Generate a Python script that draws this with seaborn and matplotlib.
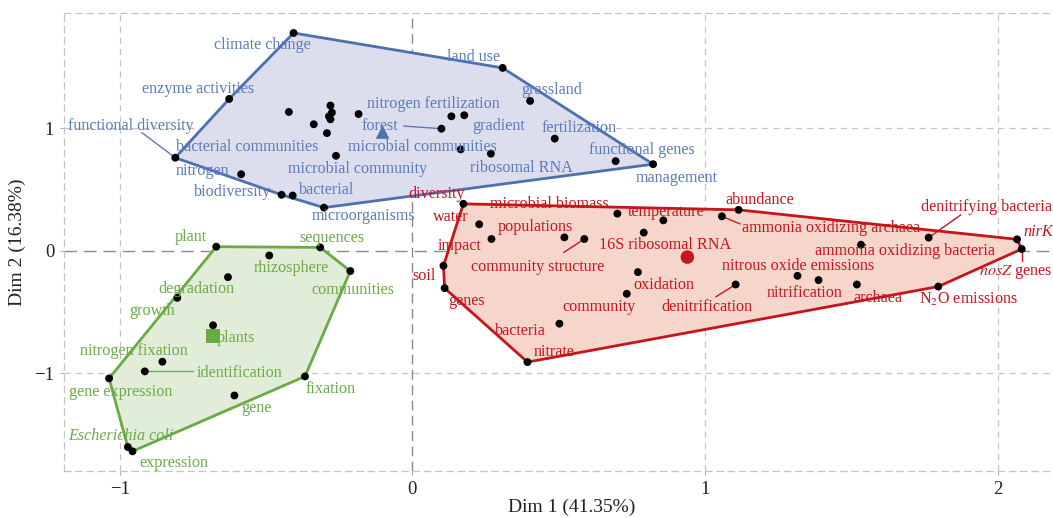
import numpy as np
import pandas as pd
import matplotlib
matplotlib.use("Agg")
import matplotlib.pyplot as plt
import seaborn as sns

# ---- data (Dim 1, Dim 2 coordinates) ----
blue_terms = ["climate change", "land use", "grassland", "nitrogen fertilization", "gradient",
              "forest", "microbial communities", "ribosomal RNA", "fertilization",
              "functional genes", "management", "microorganisms", "bacterial", "biodiversity",
              "nitrogen", "functional diversity", "enzyme activities", "", "", "", "", "",
              "bacterial communities", "", "", "microbial community"]
blue_d1 = [-0.406, 0.308, 0.402, 0.133, 0.177, 0.099, 0.165, 0.268, 0.486, 0.694, 0.822,
           -0.302, -0.409, -0.447, -0.585, -0.810, -0.626, -0.422, -0.280, -0.275, -0.285,
           -0.280, -0.337, -0.292, -0.184, -0.261]
blue_d2 = [1.779, 1.494, 1.224, 1.098, 1.107, 0.997, 0.828, 0.793, 0.916, 0.732, 0.707,
           0.352, 0.451, 0.457, 0.625, 0.760, 1.240, 1.134, 1.186, 1.129, 1.098, 1.074,
           1.033, 0.961, 1.117, 0.776]

red_terms = ["diversity", "water", "impact", "soil", "genes", "nitrate", "bacteria",
             "community", "oxidation", "populations", "community structure",
             "microbial biomass", "temperature", "16S ribosomal RNA", "abundance",
             "ammonia oxidizing archaea", "denitrification", "nitrous oxide emissions",
             "nitrification", "archaea", "ammonia oxidizing bacteria",
             "denitrifying bacteria", "nirK", "nosZ genes", "N2O emissions"]
red_d1 = [0.174, 0.228, 0.270, 0.106, 0.110, 0.393, 0.502, 0.732, 0.770, 0.519, 0.587,
          0.700, 0.857, 0.790, 1.114, 1.057, 1.104, 1.315, 1.387, 1.518, 1.532, 1.763,
          2.065, 2.081, 1.796]
red_d2 = [0.383, 0.216, 0.096, -0.123, -0.306, -0.910, -0.596, -0.352, -0.175, 0.109,
          0.096, 0.303, 0.248, 0.148, 0.334, 0.281, -0.276, -0.205, -0.240, -0.276, 0.049,
          0.107, 0.093, 0.014, -0.293]

green_terms = ["plant", "sequences", "communities", "rhizosphere", "degradation", "growth",
               "plants", "nitrogen fixation", "identification", "gene expression",
               "fixation", "gene", "Escherichia coli", "expression"]
green_d1 = [-0.670, -0.315, -0.212, -0.489, -0.630, -0.803, -0.681, -0.854, -0.914,
            -1.036, -0.367, -0.608, -0.972, -0.956]
green_d2 = [0.033, 0.027, -0.166, -0.039, -0.216, -0.385, -0.609, -0.907, -0.986,
            -1.043, -1.027, -1.183, -1.604, -1.639]

clusters = ["1", "2", "3"]
centre_d1 = [-0.102, 0.939, -0.681]
centre_d2 = [0.970, -0.052, -0.697]

# ---- label layout (text centres and segment starts, data units) ----
label_pos = {
    "climate change": (-0.513, 1.680), "enzyme activities": (-0.732, 1.320),
    "functional diversity": (-0.961, 1.016), "bacterial communities": (-0.565, 0.847),
    "nitrogen": (-0.716, 0.650), "biodiversity": (-0.614, 0.478),
    "bacterial": (-0.292, 0.498), "microorganisms": (-0.168, 0.287),
    "microbial community": (-0.186, 0.670), "microbial communities": (0.035, 0.847),
    "nitrogen fertilization": (0.072, 1.202), "forest": (-0.111, 1.019),
    "gradient": (0.294, 1.019), "land use": (0.209, 1.584), "grassland": (0.474, 1.311),
    "fertilization": (0.569, 1.002), "functional genes": (0.785, 0.820),
    "ribosomal RNA": (0.373, 0.678), "management": (0.904, 0.598),
    "diversity": (0.083, 0.465), "microbial biomass": (0.468, 0.385),
    "water": (0.132, 0.273), "populations": (0.419, 0.191), "impact": (0.160, 0.041),
    "16S ribosomal RNA": (0.864, 0.049), "community structure": (0.426, -0.131),
    "soil": (0.039, -0.205), "genes": (0.185, -0.410), "bacteria": (0.369, -0.656),
    "nitrate": (0.484, -0.828), "community": (0.637, -0.459),
    "oxidation": (0.859, -0.281), "temperature": (0.868, 0.320),
    "denitrification": (1.005, -0.459), "nitrous oxide emissions": (1.316, -0.123),
    "abundance": (1.185, 0.416), "ammonia oxidizing archaea": (1.429, 0.186),
    "ammonia oxidizing bacteria": (1.684, 0.000), "denitrifying bacteria": (1.962, 0.361),
    "nirK": (2.137, 0.156), "nosZ genes": (2.060, -0.170), "N2O emissions": (1.898, -0.396),
    "nitrification": (1.338, -0.347), "archaea": (1.590, -0.383),
    "plant": (-0.756, 0.115), "sequences": (-0.274, 0.107), "rhizosphere": (-0.415, -0.145),
    "communities": (-0.202, -0.322), "degradation": (-0.738, -0.309),
    "growth": (-0.890, -0.492), "plants": (-0.602, -0.711),
    "nitrogen fixation": (-0.950, -0.820), "identification": (-0.592, -0.998),
    "gene expression": (-0.998, -1.153), "fixation": (-0.280, -1.134),
    "gene": (-0.533, -1.284), "Escherichia coli": (-0.995, -1.516),
    "expression": (-0.815, -1.735),
}
segment_start = {
    "functional diversity": (-0.924, 0.965), "forest": (-0.030, 1.019),
    "community structure": (0.517, -0.014), "denitrification": (1.036, -0.377),
    "ammonia oxidizing archaea": (1.119, 0.219), "denitrifying bacteria": (1.873, 0.293),
    "nosZ genes": (2.081, -0.088), "identification": (-0.748, -0.986),
}
pretty = {"nosZ genes": r"$\mathit{nosZ}$ genes", "N2O emissions": r"N$_2$O emissions"}
italic = {"nirK", "Escherichia coli"}

line_col = {"1": "#4d70b0", "2": "#c4161c", "3": "#6aab45"}
text_col = {"1": "#5a7cb9", "2": "#c8141e", "3": "#6aab45"}
fill_col = {"1": "#dcdeee", "2": "#f6d6ca", "3": "#e1edd9"}
markers = {"1": "^", "2": "o", "3": "s"}

df = pd.concat([
    pd.DataFrame({"term": blue_terms, "dim1": blue_d1, "dim2": blue_d2, "cluster": "1"}),
    pd.DataFrame({"term": red_terms, "dim1": red_d1, "dim2": red_d2, "cluster": "2"}),
    pd.DataFrame({"term": green_terms, "dim1": green_d1, "dim2": green_d2, "cluster": "3"}),
], ignore_index=True)
centres = pd.DataFrame({"cluster": clusters, "dim1": centre_d1, "dim2": centre_d2})


def hull(pts):
    # monotone chain convex hull
    pts = sorted(map(tuple, pts))
    def cross(o, a, b):
        return (a[0] - o[0]) * (b[1] - o[1]) - (a[1] - o[1]) * (b[0] - o[0])
    lower, upper = [], []
    for p in pts:
        while len(lower) >= 2 and cross(lower[-2], lower[-1], p) <= 0:
            lower.pop()
        lower.append(p)
    for p in reversed(pts):
        while len(upper) >= 2 and cross(upper[-2], upper[-1], p) <= 0:
            upper.pop()
        upper.append(p)
    return np.array(lower[:-1] + upper[:-1])


sns.set_theme(style="white")
plt.rcParams["font.family"] = ["Liberation Serif", "DejaVu Serif"]
plt.rcParams["mathtext.fontset"] = "stix"

fig = plt.figure(figsize=(10.53, 5.18), dpi=100)
ax = fig.add_axes([64 / 1053, 1 - 471 / 518, (1080 - 64) / 1053, (471 - 13.3) / 518])

ax.set_xlim(-1.19, 2.28)
ax.set_ylim(-1.80, 1.94)

# grid and zero lines
for xv in [-1, 1, 2]:
    ax.axvline(xv, color="#c4c4c4", lw=0.9, ls=(0, (5, 4)), zorder=0)
for yv in [-1, 1]:
    ax.axhline(yv, color="#c4c4c4", lw=0.9, ls=(0, (5, 4)), zorder=0)
ax.axvline(0, color="#8a8a8a", lw=1.0, ls=(0, (7, 4)), zorder=0.5)
ax.axhline(0, color="#8a8a8a", lw=1.0, ls=(0, (9, 5)), zorder=0.5)
for sp in ax.spines.values():
    sp.set_color("#c4c4c4")
    sp.set_linestyle((0, (5, 4)))
    sp.set_linewidth(0.9)

for c in clusters:
    sub = df[df["cluster"] == c]
    h = hull(sub[["dim1", "dim2"]].values)
    ax.fill(h[:, 0], h[:, 1], color=fill_col[c], zorder=1)
    hc = np.vstack([h, h[:1]])
    ax.plot(hc[:, 0], hc[:, 1], color=line_col[c], lw=2.0, zorder=2)

sns.scatterplot(data=df, x="dim1", y="dim2", color="black", s=32, edgecolor="none",
                ax=ax, zorder=4, legend=False)
sns.scatterplot(data=centres, x="dim1", y="dim2", hue="cluster", style="cluster",
                palette=line_col, markers=markers, s=[95], edgecolor="none",
                ax=ax, zorder=4, legend=False)

for _, r in df.iterrows():
    t = r["term"]
    if not t or t not in label_pos:
        continue
    lx, ly = label_pos[t]
    col = text_col[r["cluster"]]
    if t in segment_start:
        sx, sy = segment_start[t]
        ax.plot([sx, r["dim1"]], [sy, r["dim2"]], color=col, lw=1.0, zorder=3)
    ax.text(lx, ly, pretty.get(t, t), color=col, fontsize=11.6, ha="center", va="center",
            fontstyle="italic" if t in italic else "normal", zorder=5)

ax.set_xticks([-1, 0, 1, 2])
ax.set_yticks([-1, 0, 1])
ax.set_xticklabels(["\u22121", "0", "1", "2"])
ax.set_yticklabels(["\u22121", "0", "1"])
ax.tick_params(axis="both", which="both", length=3, width=0.8, color="#b0b0b0",
               labelsize=13.5, labelcolor="#222222", direction="out", pad=4,
               bottom=True, left=True)
ax.set_xlabel("Dim 1 (41.35%)", fontsize=14, color="#222222", labelpad=1)
ax.set_ylabel("Dim 2 (16.38%)", fontsize=14, color="#222222", labelpad=6)

fig.savefig("out.png", dpi=100)
